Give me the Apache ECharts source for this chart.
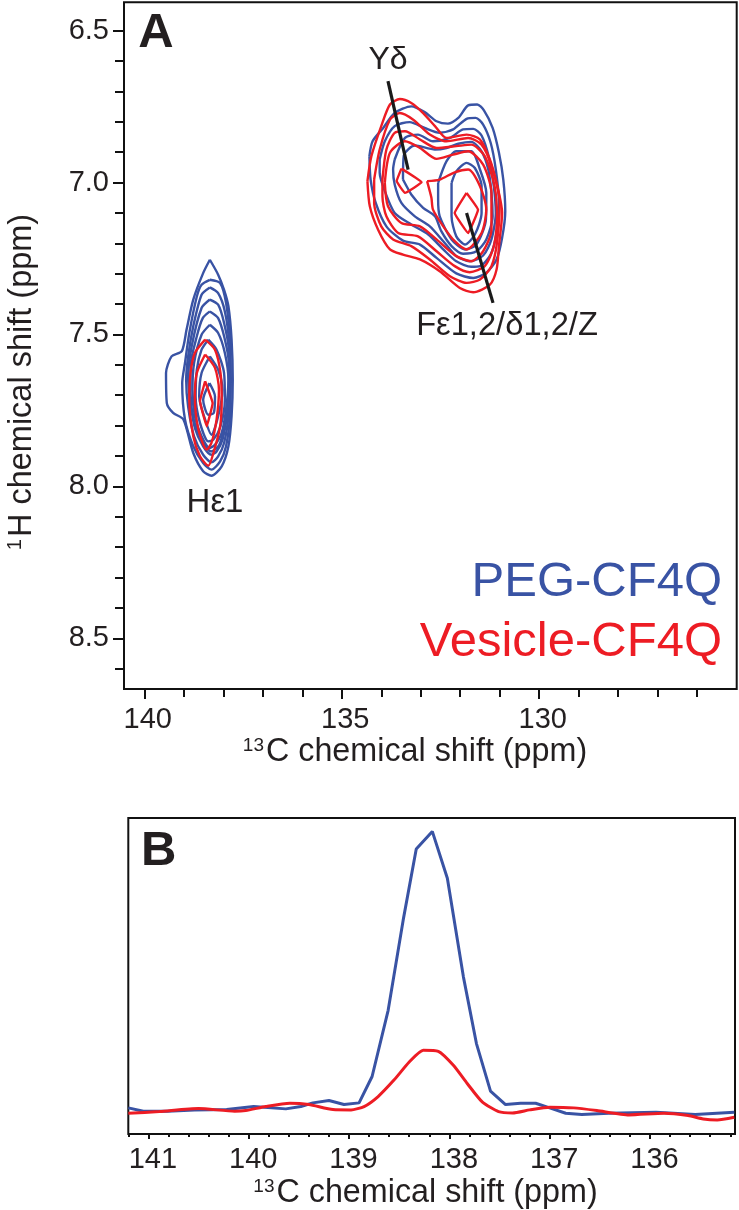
<!DOCTYPE html>
<html>
<head>
<meta charset="utf-8">
<style>html,body{margin:0;padding:0;background:#fff}#c{width:739px;height:1210px}</style>
<script src="https://cdn.jsdelivr.net/npm/echarts@6/dist/echarts.min.js"></script>
</head>
<body>
<div id="c"></div>
<script>
// Panel A contours: [13C ppm, 1H ppm]
const pegAromatic = [
 [[134.30,6.913],[134.22,6.864],[133.95,6.820],[133.66,6.771],[133.24,6.749],[132.90,6.768],[132.60,6.798],[132.31,6.806],[132.05,6.787],[131.80,6.746],[131.57,6.743],[131.40,6.762],[131.18,6.820],[131.02,6.902],[130.91,6.990],[130.86,7.094],[130.94,7.182],[131.08,7.253],[131.34,7.297],[131.67,7.314],[132.10,7.299],[132.60,7.248],[133.02,7.204],[133.45,7.191],[133.87,7.144],[134.14,7.067],[134.27,6.990]],
 [[134.04,6.924],[133.91,6.864],[133.66,6.814],[133.28,6.801],[132.90,6.820],[132.52,6.836],[132.18,6.825],[131.84,6.790],[131.61,6.787],[131.42,6.809],[131.23,6.869],[131.10,6.957],[131.02,7.067],[131.08,7.166],[131.23,7.237],[131.50,7.275],[131.72,7.277],[132.10,7.259],[132.43,7.220],[132.81,7.171],[133.24,7.138],[133.66,7.100],[133.91,7.028],[134.04,6.968]],
 [[133.66,6.924],[133.40,6.853],[133.07,6.842],[132.69,6.864],[132.26,6.853],[131.93,6.825],[131.67,6.823],[131.46,6.845],[131.27,6.919],[131.15,7.012],[131.10,7.100],[131.21,7.187],[131.42,7.240],[131.76,7.259],[132.10,7.242],[132.43,7.193],[132.77,7.144],[133.15,7.111],[133.49,7.067],[133.66,7.006],[133.70,6.957]],
 [[133.45,6.990],[133.43,6.911],[133.15,6.878],[132.64,6.891],[132.35,6.886],[132.05,6.872],[131.72,6.866],[131.46,6.897],[131.29,6.957],[131.21,7.034],[131.18,7.111],[131.34,7.187],[131.59,7.226],[131.93,7.234],[132.22,7.209],[132.48,7.160],[132.64,7.111],[132.94,7.083],[133.24,7.039]],
 [[132.56,7.001],[132.35,6.930],[132.10,6.897],[131.72,6.897],[131.50,6.957],[131.34,7.034],[131.35,7.122],[131.59,7.204],[131.88,7.220],[132.22,7.187],[132.52,7.111],[132.56,7.056]],
 [[132.22,7.001],[132.10,6.963],[131.84,6.935],[131.63,6.952],[131.46,7.012],[131.46,7.100],[131.63,7.171],[131.88,7.204],[132.10,7.177],[132.22,7.111]]
];
const vesicleAromatic = [
 [[134.35,6.995],[134.25,6.913],[134.00,6.814],[133.78,6.743],[133.53,6.725],[133.24,6.738],[132.94,6.771],[132.64,6.814],[132.35,6.853],[131.84,6.842],[131.50,6.858],[131.25,6.924],[131.08,7.001],[130.94,7.100],[131.02,7.209],[131.08,7.286],[131.25,7.336],[131.67,7.361],[132.01,7.347],[132.52,7.292],[133.02,7.253],[133.45,7.237],[133.78,7.220],[134.08,7.155],[134.29,7.078]],
 [[134.18,6.990],[134.04,6.891],[133.78,6.793],[133.53,6.771],[133.19,6.793],[132.77,6.842],[132.35,6.864],[131.80,6.853],[131.46,6.875],[131.21,6.946],[131.00,7.067],[131.07,7.198],[131.21,7.275],[131.50,7.319],[131.84,7.330],[132.26,7.308],[132.77,7.253],[133.24,7.209],[133.70,7.187],[134.00,7.144],[134.18,7.067]],
 [[133.97,6.990],[133.87,6.891],[133.66,6.836],[133.40,6.831],[133.02,6.858],[132.60,6.886],[132.10,6.880],[131.72,6.875],[131.38,6.913],[131.13,7.012],[131.07,7.111],[131.15,7.209],[131.38,7.275],[131.76,7.295],[132.14,7.275],[132.60,7.226],[133.07,7.177],[133.57,7.166],[133.87,7.111],[133.97,7.045]],
 [[133.91,7.001],[133.78,6.902],[133.40,6.864],[133.02,6.886],[132.60,6.922],[132.18,6.908],[131.80,6.897],[131.42,6.941],[131.21,7.034],[131.21,7.155],[131.42,7.226],[131.72,7.259],[132.10,7.242],[132.60,7.187],[133.02,7.144],[133.49,7.133],[133.83,7.078]],
 [[132.84,6.995],[132.52,6.990],[132.14,6.966],[131.80,6.957],[131.50,7.012],[131.34,7.089],[131.46,7.166],[131.84,7.220],[132.14,7.193],[132.43,7.144],[132.69,7.089],[132.73,7.050]],
 [[133.49,6.954],[132.98,6.999],[133.40,7.034],[133.61,6.995]],
 [[131.84,7.034],[131.55,7.089],[131.80,7.166],[132.14,7.100]]
];
const pegHis = [
 [[138.34,7.254],[138.13,7.303],[137.98,7.353],[137.87,7.407],[137.79,7.517],[137.76,7.649],[137.79,7.769],[137.87,7.868],[138.04,7.934],[138.30,7.965],[138.51,7.950],[138.76,7.890],[139.01,7.780],[139.27,7.758],[139.43,7.726],[139.45,7.627],[139.31,7.572],[139.05,7.555],[138.93,7.484],[138.76,7.385],[138.51,7.298]],
 [[138.34,7.320],[138.08,7.331],[137.93,7.396],[137.83,7.517],[137.81,7.649],[137.83,7.769],[137.93,7.868],[138.08,7.918],[138.30,7.945],[138.51,7.923],[138.76,7.868],[138.97,7.780],[139.04,7.660],[138.97,7.594],[138.86,7.495],[138.67,7.375],[138.55,7.336]],
 [[138.34,7.345],[138.13,7.364],[137.96,7.424],[137.85,7.528],[137.83,7.649],[137.87,7.769],[137.98,7.857],[138.13,7.901],[138.30,7.921],[138.51,7.896],[138.74,7.835],[138.89,7.737],[138.94,7.649],[138.89,7.572],[138.76,7.473],[138.55,7.369]],
 [[138.34,7.385],[138.13,7.402],[137.98,7.462],[137.86,7.550],[137.85,7.649],[137.90,7.758],[138.02,7.846],[138.17,7.885],[138.30,7.896],[138.51,7.868],[138.72,7.808],[138.84,7.715],[138.89,7.638],[138.80,7.539],[138.55,7.413]],
 [[138.34,7.424],[138.13,7.446],[137.97,7.511],[137.86,7.594],[137.86,7.682],[137.96,7.791],[138.10,7.863],[138.31,7.885],[138.52,7.852],[138.74,7.786],[138.83,7.693],[138.83,7.605],[138.67,7.506],[138.52,7.446]],
 [[138.34,7.468],[138.13,7.495],[137.96,7.561],[137.87,7.649],[137.93,7.747],[138.04,7.824],[138.21,7.863],[138.34,7.874],[138.55,7.835],[138.72,7.769],[138.78,7.682],[138.74,7.594],[138.55,7.501]],
 [[138.38,7.517],[138.17,7.550],[137.98,7.627],[137.96,7.715],[138.07,7.802],[138.25,7.846],[138.38,7.852],[138.59,7.791],[138.70,7.704],[138.67,7.616],[138.55,7.550]],
 [[138.34,7.572],[138.13,7.616],[138.02,7.682],[138.13,7.769],[138.30,7.830],[138.46,7.780],[138.61,7.704],[138.55,7.627]],
 [[138.35,7.660],[138.21,7.704],[138.24,7.758],[138.38,7.764],[138.51,7.715]]
];
const vesicleHis = [
 [[138.46,7.517],[138.21,7.550],[138.07,7.627],[138.04,7.715],[138.08,7.802],[138.25,7.890],[138.38,7.932],[138.59,7.901],[138.76,7.835],[138.86,7.715],[138.83,7.627],[138.72,7.561]],
 [[138.46,7.566],[138.21,7.610],[138.11,7.682],[138.17,7.780],[138.30,7.857],[138.42,7.879],[138.63,7.813],[138.72,7.704],[138.67,7.627]],
 [[138.46,7.654],[138.27,7.726],[138.42,7.802],[138.59,7.720]]
];
const leaderLines = [
 [[133.83,6.666],[133.32,6.957]],
 [[131.84,7.100],[131.17,7.396]]
];
// Panel A ticks
const xMajorA = [140,135,130];
const xMinorA = [139,138,137,136,134,133,132,131,129,128,127,126];
const yMajorA = [6.5,7.0,7.5,8.0,8.5];
const yMinorA = [6.6,6.7,6.8,6.9,7.1,7.2,7.3,7.4,7.6,7.7,7.8,7.9,8.1,8.2,8.3,8.4,8.6];
// Panel B spectra: [13C ppm, intensity]
const pegSlice = [[141.20,0.96],[141.05,-0.24],[140.81,-0.24],[140.54,0.24],[140.22,0.36],[139.95,1.44],[139.63,0.6],[139.48,1.44],[139.36,2.75],[139.20,3.59],[139.05,2.16],[138.90,2.75],[138.77,12.2],[138.61,35.9],[138.46,68.3],[138.33,93.7],[138.17,100],[138.02,83.2],[137.86,47.9],[137.73,24],[137.59,6.95],[137.44,2.16],[137.29,2.63],[137.14,2.63],[137.00,0.96],[136.84,-0.96],[136.68,-1.44],[136.41,-0.96],[135.94,-0.6],[135.55,-1.44],[135.16,-0.6]];
const vesicleSlice = [[141.20,-0.96],[140.89,-0.36],[140.50,0.72],[140.14,-0.24],[140.03,0],[139.83,1.44],[139.59,2.63],[139.40,2.16],[139.16,0.36],[138.98,0.24],[138.85,1.44],[138.71,5.03],[138.55,11],[138.40,17.4],[138.26,21.6],[138.11,21.2],[137.96,16.2],[137.82,9.6],[137.67,3],[137.51,-0.36],[137.37,-0.84],[137.20,0.24],[137.00,1.2],[136.76,0.96],[136.53,0],[136.21,-1.56],[135.86,-0.96],[135.62,-1.8],[135.47,-3],[135.33,-3.35],[135.16,-2.4]];
// Panel B ticks
const xMajorB = [141,140,139,138,137,136];
const xMinorB = [141.2,140.8,140.6,140.4,140.2,139.8,139.6,139.4,139.2,138.8,138.6,138.4,138.2,137.8,137.6,137.4,137.2,136.8,136.6,136.4,136.2,135.8,135.6,135.4,135.2];

const BLUE='#3953a4', RED='#ed1c24', INK='#231f20';
const FONT='"Liberation Sans", Arial, sans-serif';
const tickFont={color:INK,fontFamily:FONT,fontSize:29};

function xAxisOf(gi,min,max,major,minor,labelled,margin,majorLen,minorLen,shift){
  return {type:'value',gridIndex:gi,inverse:true,min,max,position:'bottom',
    axisLine:{show:false,onZero:false},splitLine:{show:false},
    axisTick:{show:true,length:labelled?majorLen:minorLen,customValues:labelled?major:minor,lineStyle:{color:'#111',width:2}},
    axisLabel:Object.assign({show:labelled,margin,padding:[0,0,0,shift],customValues:major,formatter:v=>String(v)},tickFont)};
}
function contour(points,color,name){
  return {name,type:'line',xAxisIndex:0,yAxisIndex:0,data:points.concat([points[0]]),
    showSymbol:false,symbol:'none',smooth:points.length<=4?0.08:0.25,silent:true,animation:false,
    lineStyle:{color,width:2.4}};
}
const series=[];
pegAromatic.concat(pegHis).forEach(p=>series.push(contour(p,BLUE,'PEG-CF4Q')));
vesicleAromatic.concat(vesicleHis).forEach(p=>series.push(contour(p,RED,'Vesicle-CF4Q')));
leaderLines.forEach(p=>series.push({type:'line',xAxisIndex:0,yAxisIndex:0,data:p,showSymbol:false,symbol:'none',silent:true,animation:false,lineStyle:{color:'#1a1a1a',width:3.2}}));
series.push({name:'PEG-CF4Q',type:'line',xAxisIndex:2,yAxisIndex:2,data:pegSlice,showSymbol:false,symbol:'none',silent:true,animation:false,lineStyle:{color:BLUE,width:3}});
series.push({name:'Vesicle-CF4Q',type:'line',xAxisIndex:2,yAxisIndex:2,data:vesicleSlice,showSymbol:false,symbol:'none',smooth:0.2,silent:true,animation:false,lineStyle:{color:RED,width:3}});

function richFor(size){return {sup:{fontFamily:FONT,fontSize:Math.round(size*0.6),fill:INK,color:INK,verticalAlign:'top',padding:[0,2,Math.round(size*0.4),0]},m:{fontFamily:FONT,fontSize:size,fill:INK,color:INK}};}
function txt(x,y,text,size,fill,align,weight){
  return {type:'text',silent:true,z:20,style:{x,y,text,fill,font:(weight?weight+' ':'')+size+'px '+FONT,textAlign:align||'center',textVerticalAlign:'middle'}};
}
function axisTitle(x,y,size){
  return {type:'text',silent:true,z:20,x,y,style:{x:0,y:0,text:'{sup|13}{m|C chemical shift (ppm)}',rich:richFor(size),textAlign:'center',textVerticalAlign:'middle'}};
}
function axisTitleY(x,y,size){
  return {type:'text',silent:true,z:20,x,y,rotation:Math.PI/2,style:{x:0,y:0,text:'{sup|1}{m|H chemical shift (ppm)}',rich:richFor(size),textAlign:'center',textVerticalAlign:'middle'}};
}

const option={
  animation:false,backgroundColor:'#fff',
  grid:[
    {left:124,top:2.3,width:612.7,height:686.7,show:true,borderColor:'#111',borderWidth:2,backgroundColor:'transparent'},
    {left:128.3,top:818,width:606.7,height:316,show:true,borderColor:'#111',borderWidth:2,backgroundColor:'transparent'}
  ],
  xAxis:[
    xAxisOf(0,125,140.514,xMajorA,xMinorA,true,16,10,8,7),
    xAxisOf(0,125,140.514,xMajorA,xMinorA,false,16,10,8,0),
    xAxisOf(1,135.153,141.2,xMajorB,xMinorB,true,11,5,3,9),
    xAxisOf(1,135.153,141.2,xMajorB,xMinorB,false,11,5,3,0)
  ],
  yAxis:[
    {type:'value',gridIndex:0,position:'left',inverse:true,min:6.4065,max:8.667,axisLine:{show:false,onZero:false},splitLine:{show:false},
     axisTick:{length:11,customValues:yMajorA,lineStyle:{color:'#111',width:2}},
     axisLabel:Object.assign({margin:15,customValues:yMajorA,formatter:v=>v.toFixed(1)},tickFont)},
    {type:'value',gridIndex:0,position:'left',inverse:true,min:6.4065,max:8.667,axisLine:{show:false,onZero:false},splitLine:{show:false},
     axisTick:{length:9,customValues:yMinorA,lineStyle:{color:'#111',width:2}},axisLabel:{show:false}},
    {type:'value',gridIndex:1,min:-8.4,max:104.8,show:false}
  ],
  series,
  graphic:[
    txt(156,33,'A',49,'#231f20','center','bold'),
    txt(141,851,'B',49,'#231f20','left','bold'),
    txt(388,60,'Yδ',32,INK),
    txt(507,326,'Fε1,2/δ1,2/Z',32.7,INK),
    txt(215,503,'Hε1',33,INK),
    txt(722,582,'PEG-CF4Q',49,BLUE,'right'),
    txt(722,642,'Vesicle-CF4Q',49,RED,'right'),
    axisTitle(415,752,32.3),
    axisTitle(425.5,1193,32.3),
    axisTitleY(22,382,32.5)
  ]
};
echarts.init(document.getElementById('c'),null,{renderer:'canvas'}).setOption(option);
</script>
</body>
</html>
